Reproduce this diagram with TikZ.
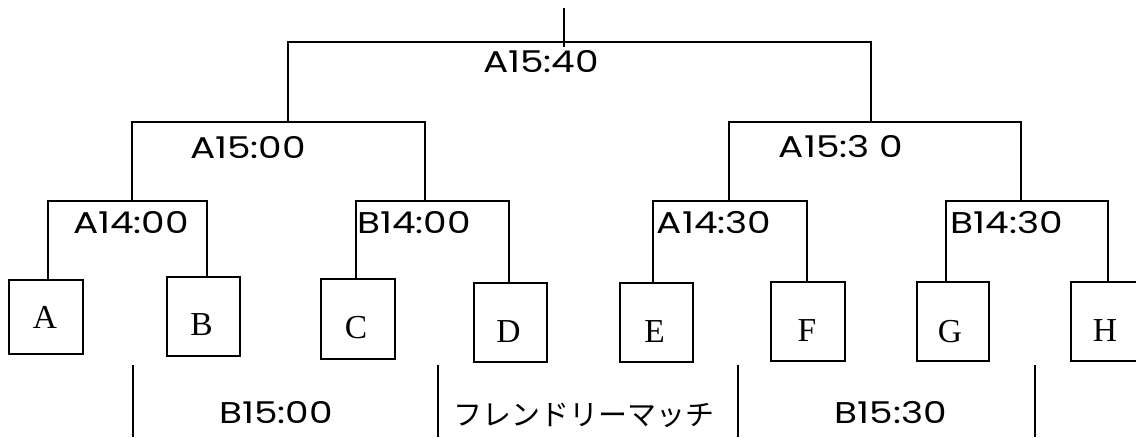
\documentclass[tikz,border=0pt]{standalone}
\usepackage{fontspec}
\newfontfamily\jpfont{Noto Sans CJK JP}
\newfontfamily\labfont{Poppins}
\newfontfamily\letfont{Liberation Serif}
\newcommand\wideTxt[1]{\scalebox{1.25}[1]{#1}}
\begin{document}
\begin{tikzpicture}[x=1pt,y=-1pt,
  line/.style={line width=1.5pt},
  box/.style={draw, line width=1.6pt, inner sep=0pt},
  lab/.style={font=\labfont\fontsize{30}{32}\selectfont, anchor=base, inner sep=0pt},
  jlab/.style={font=\jpfont\fontsize{29}{32}\selectfont, anchor=base, inner sep=0pt},
  lett/.style={font=\letfont\fontsize{33.5}{36}\selectfont, anchor=base, inner sep=0pt}]
\useasboundingbox (0,0) rectangle (1136,437);
% team boxes
\node[box, minimum width=74pt, minimum height=74pt] (A) at (46,317) {};
\node[box, minimum width=73pt, minimum height=79pt] (B) at (203.5,316.5) {};
\node[box, minimum width=74pt, minimum height=80pt] (C) at (358,319) {};
\node[box, minimum width=73pt, minimum height=79pt] (D) at (510.5,322.5) {};
\node[box, minimum width=73pt, minimum height=79pt] (E) at (656.5,322.5) {};
\node[box, minimum width=74pt, minimum height=79pt] (F) at (808,321.5) {};
\node[box, minimum width=72pt, minimum height=79pt] (G) at (953,321.5) {};
\node[box, minimum width=74pt, minimum height=79pt] (H) at (1108,321.5) {};
% letters
\node[lett] (tA) at (45,328) {A};
\node[lett] (tB) at (201.5,335) {B};
\node[lett] (tC) at (356,338) {C};
\node[lett] (tD) at (508.5,342) {D};
\node[lett] (tE) at (654.5,342) {E};
\node[lett] (tF) at (807,341) {F};
\node[lett] (tG) at (950,342) {G};
\node[lett] (tH) at (1105,341) {H};
% leader x positions
\coordinate (lA) at (48,0);
\coordinate (lB) at (207,0);
\coordinate (lC) at (356,0);
\coordinate (lD) at (509,0);
\coordinate (lE) at (653,0);
\coordinate (lF) at (807,0);
\coordinate (lG) at (946,0);
\coordinate (lH) at (1108,0);
% junctions
\coordinate (m1) at (132,201);
\coordinate (m2) at (425,201);
\coordinate (m3) at (729,201);
\coordinate (m4) at (1021,201);
\coordinate (s1) at (288,122);
\coordinate (s2) at (871,122);
\coordinate (f) at (564,42);
\coordinate (ftop) at (564,8);
\coordinate (fbot) at (564,47);
% bracket lines
\draw[line] (A.north -| lA) |- (m1) -| (B.north -| lB);
\draw[line] (C.north -| lC) |- (m2) -| (D.north -| lD);
\draw[line] (E.north -| lE) |- (m3) -| (F.north -| lF);
\draw[line] (G.north -| lG) |- (m4) -| (H.north -| lH);
\draw[line] (m1) |- (s1) -| (m2);
\draw[line] (m3) |- (s2) -| (m4);
\draw[line] (s1) |- (f) -| (s2);
\draw[line] (ftop) -- (fbot);
% match labels
\node[lab] (L1540) at (541,72) {\wideTxt{A15:40}};
\node[lab] (L1500) at (248,158) {\wideTxt{A15:00}};
\node[lab] (L1530) at (841,157) {\wideTxt{A15:3 0}};
\node[lab] (La1400) at (131,233) {\wideTxt{A14:00}};
\node[lab] (Lb1400) at (414,233) {\wideTxt{B14:00}};
\node[lab] (La1430) at (714,233) {\wideTxt{A14:30}};
\node[lab] (Lb1430) at (1007,233) {\wideTxt{B14:30}};
% bottom row
\coordinate (d1t) at (133,365); \coordinate (d1b) at (133,437);
\coordinate (d2t) at (438,365); \coordinate (d2b) at (438,437);
\coordinate (d3t) at (738,365); \coordinate (d3b) at (738,437);
\coordinate (d4t) at (1035,365); \coordinate (d4b) at (1035,437);
\draw[line] (d1t) -- (d1b);
\draw[line] (d2t) -- (d2b);
\draw[line] (d3t) -- (d3b);
\draw[line] (d4t) -- (d4b);
\node[lab] (Lb1500) at (276,423) {\wideTxt{B15:00}};
\node[jlab] (Lfr) at (584,425) {フレンドリーマッチ};
\node[lab] (Lb1530) at (891,423) {\wideTxt{B15:30}};
\end{tikzpicture}
\end{document}
